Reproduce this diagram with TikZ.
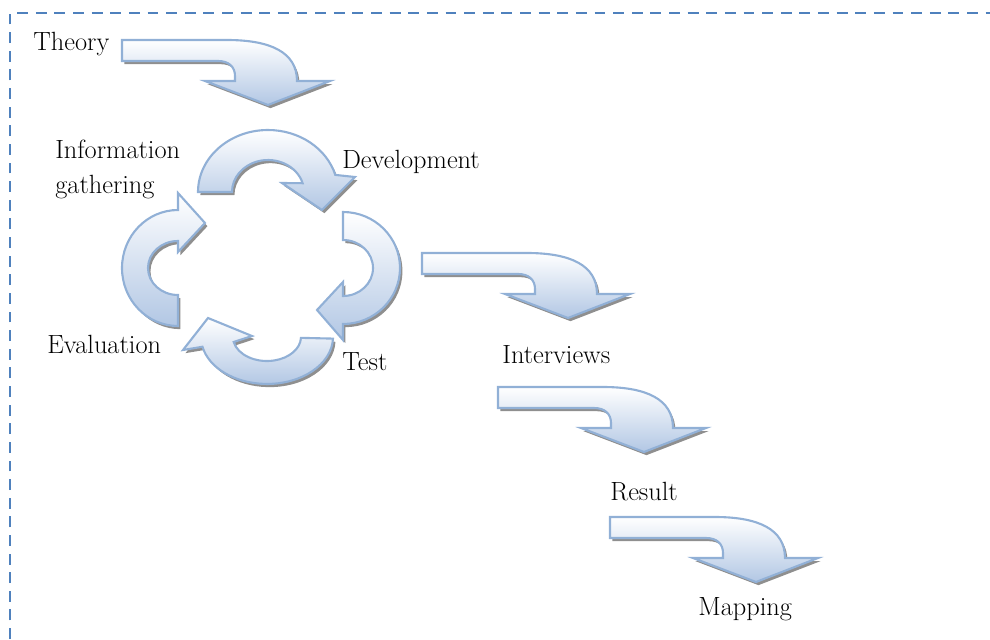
\documentclass[tikz,border=0pt]{standalone}
\usetikzlibrary{shadows}
\definecolor{arrowline}{RGB}{145,176,214}
\definecolor{arrowblue}{RGB}{178,199,228}
\definecolor{framecol}{RGB}{79,129,189}
\tikzset{
  arrowbody/.style={draw=arrowline, line width=1.2pt, top color=white, bottom color=arrowblue,
    drop shadow={shadow xshift=1.4pt, shadow yshift=-1.8pt, fill=black!55, opacity=.8}},
  lbl/.style={inner sep=0pt, font=\fontsize{15}{19.5}\selectfont},
  borderline/.style={draw=framecol, line width=1.4pt, dash pattern=on 6.2pt off 4.4pt},
  bentarrow/.pic={
    \path[arrowbody] (0,0) -- (105,0) .. controls (148,0) and (175,12) .. (175,41)
      -- (208,41) -- (146,65) -- (83,41) -- (113,41) -- (113,36)
      .. controls (113,27) and (107,21) .. (96,21) -- (0,21) -- cycle;
  }
}
\begin{document}
\begin{tikzpicture}[x=0.02cm, y=-0.02cm]
\useasboundingbox (0,0) rectangle (990,639);
\draw[borderline] (10,639) -- (10,13) -- (990,13);

% process steps
\pic (theoryarrow) at (122,40) {bentarrow};
\pic (interviewarrow) at (422,253) {bentarrow};
\pic (resultarrow) at (498,387) {bentarrow};
\pic (mappingarrow) at (610,517) {bentarrow};

% development cycle
\path[arrowbody] (198,192) arc[start angle=180, end angle=344, x radius=70, y radius=62]
  -- (355,177) -- (322,210) -- (282,183) -- (302.6,183.2)
  arc[start angle=344, end angle=180, x radius=36, y radius=32] -- cycle;
\path[arrowbody] (343,212) arc[start angle=270, end angle=450, x radius=57, y radius=56]
  -- (343,340) -- (317,310) -- (343,282) -- (343,296)
  arc[start angle=90, end angle=-90, x radius=30, y radius=28] -- cycle;
\path[arrowbody] (333,338.6) arc[start angle=2, end angle=168, x radius=66, y radius=47]
  -- (183,350) -- (208,318) -- (252,336) -- (233.7,342)
  arc[start angle=168, end angle=2, x radius=34, y radius=24] -- cycle;
\path[arrowbody] (178,326) arc[start angle=90, end angle=270, x radius=56, y radius=58]
  -- (178,193) -- (205,223) -- (178,252) -- (178,241)
  arc[start angle=270, end angle=90, x radius=30, y radius=27] -- cycle;

% labels
\node[lbl, anchor=base west] (theory) at (33,51) {Theory};
\node[lbl, anchor=north west, align=left] (info) at (55,140) {Information\\gathering};
\node[lbl, anchor=base west] (devel) at (342,168) {Development};
\node[lbl, anchor=base west] (test) at (342,370) {Test};
\node[lbl, anchor=base west] (eval) at (47,353) {Evaluation};
\node[lbl, anchor=base west] (interviews) at (502,363) {Interviews};
\node[lbl, anchor=base west] (result) at (610,500) {Result};
\node[lbl, anchor=base west] (mapping) at (698,615) {Mapping};
\end{tikzpicture}
\end{document}
